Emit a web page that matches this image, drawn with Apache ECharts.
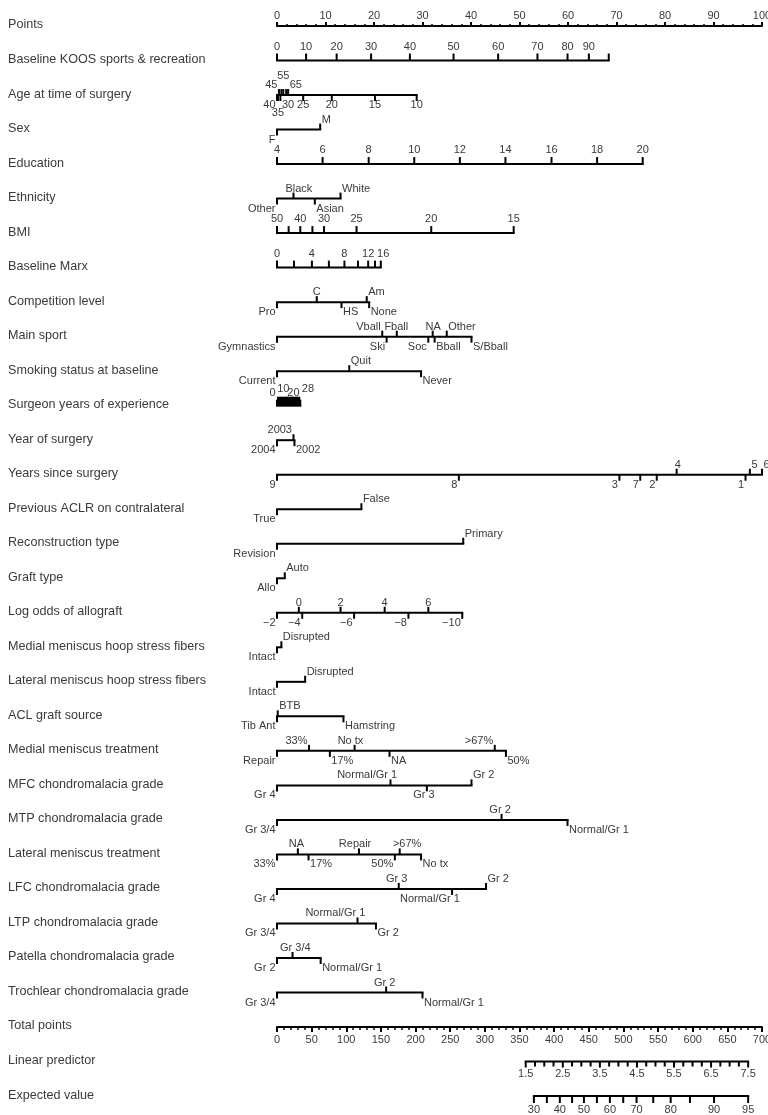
<!DOCTYPE html>
<html><head><meta charset="utf-8">
<script src="https://cdn.jsdelivr.net/npm/echarts/dist/echarts.min.js"></script>
<style>html,body{margin:0;padding:0;background:#fff}#c{width:768px;height:1115px}</style>
</head><body><div id="c"></div>
<script>
// ---------------- DATA ----------------
const rowNames = ['Points','Baseline KOOS sports & recreation','Age at time of surgery','Sex','Education',
  'Ethnicity','BMI','Baseline Marx','Competition level','Main sport','Smoking status at baseline',
  'Surgeon years of experience','Year of surgery','Years since surgery','Previous ACLR on contralateral',
  'Reconstruction type','Graft type','Log odds of allograft','Medial meniscus hoop stress fibers',
  'Lateral meniscus hoop stress fibers','ACL graft source','Medial meniscus treatment',
  'MFC chondromalacia grade','MTP chondromalacia grade','Lateral meniscus treatment',
  'LFC chondromalacia grade','LTP chondromalacia grade','Patella chondromalacia grade',
  'Trochlear chondromalacia grade','Total points','Linear predictor','Expected value'];

// each variable: tick labels and their position on the 0-100 Points scale
const koosLabels = ['0','10','20','30','40','50','60','70','80','90',''];
const koosPts    = [0,6.0,12.3,19.4,27.4,36.4,45.6,53.7,59.9,64.3,68.4];
const ageLabels  = ['40','35','30','25','20','15','10','45','','55','','65'];
const agePts     = [0,0.2,0.7,5.4,11.3,20.2,28.8,0.4,0.9,1.3,1.9,2.3];
const sexLabels  = ['F','M'];
const sexPts     = [0,8.9];
const eduLabels  = ['4','6','8','10','12','14','16','18','20'];
const eduPts     = [0,9.4,18.9,28.3,37.7,47.1,56.6,66.0,75.4];
const ethLabels  = ['Other','Black','Asian','White'];
const ethPts     = [0,3.4,7.8,13.1];
const bmiLabels  = ['50','','40','','30','25','20','15'];
const bmiPts     = [0,2.4,4.8,7.3,9.7,16.4,31.8,48.8];
const marxLabels = ['0','','4','','8','','12','','16'];
const marxPts    = [0,3.5,7.2,10.7,13.9,16.7,18.8,20.2,21.4];
const compLabels = ['Pro','C','HS','Am','None'];
const compPts    = [0,8.2,13.3,18.5,19.0];
const sportLabels= ['Gymnastics','Vball','Ski','Fball','Soc','NA','Bball','Other','S/Bball'];
const sportPts   = [0,21.7,22.6,24.7,31.2,32.1,32.5,35.0,40.1];
const smokeLabels= ['Current','Quit','Never'];
const smokePts   = [0,14.9,29.7];
const surgLabels = ['0','10','20','28'];
const surgPts    = [0,1.3,3.4,4.8];
const yearLabels = ['2004','2003','2002'];
const yearPts    = [0,3.4,3.6];
const sinceLabels= ['9','8','3','7','2','4','1','5','6'];
const sincePts   = [0,37.5,70.6,74.9,78.3,82.4,96.6,97.5,100];
const prevLabels = ['True','False'];
const prevPts    = [0,17.4];
const reconLabels= ['Revision','Primary'];
const reconPts   = [0,38.4];
const graftLabels= ['Allo','Auto'];
const graftPts   = [0,1.6];
const loLabels   = ['\u22122','0','\u22124','2','\u22126','4','\u22128','6','\u221210'];
const loPts      = [0,4.5,5.2,13.1,15.9,22.2,27.1,31.2,38.2];
const mhoopLabels= ['Intact','Disrupted'];
const mhoopPts   = [0,0.9];
const lhoopLabels= ['Intact','Disrupted'];
const lhoopPts   = [0,5.8];
const srcLabels  = ['Tib Ant','BTB','Hamstring'];
const srcPts     = [0,0.15,13.7];
const mtxLabels  = ['Repair','33%','17%','No tx','NA','>67%','50%'];
const mtxPts     = [0,6.6,10.9,16.0,23.2,44.9,47.2];
const mfcLabels  = ['Gr 4','Normal/Gr 1','Gr 3','Gr 2'];
const mfcPts     = [0,23.4,30.9,40.1];
const mtpLabels  = ['Gr 3/4','Gr 2','Normal/Gr 1'];
const mtpPts     = [0,46.3,59.9];
const ltxLabels  = ['33%','NA','17%','Repair','50%','>67%','No tx'];
const ltxPts     = [0,4.3,6.5,16.9,24.3,25.3,29.7];
const lfcLabels  = ['Gr 4','Gr 3','Normal/Gr 1','Gr 2'];
const lfcPts     = [0,25.1,36.1,43.1];
const ltpLabels  = ['Gr 3/4','Normal/Gr 1','Gr 2'];
const ltpPts     = [0,16.6,20.4];
const patLabels  = ['Gr 2','Gr 3/4','Normal/Gr 1'];
const patPts     = [0,3.2,9.0];
const troLabels  = ['Gr 3/4','Gr 2','Normal/Gr 1'];
const troPts     = [0,22.5,30.0];

// output scales
const pointsMax = 100;
const totalMax = 700;
const lpAnchorValue = [1.5, 7.5];      // linear predictor values...
const lpAnchorTotal = [359, 680];      // ...and their total points
const lpTicks  = [1.5,1.75,2,2.25,2.5,2.75,3,3.25,3.5,3.75,4,4.25,4.5,4.75,5,5.25,5.5,5.75,6,6.25,6.5,6.75,7,7.25,7.5];
const lpLabels = ['1.5','','','','2.5','','','','3.5','','','','4.5','','','','5.5','','','','6.5','','','','7.5'];
const evLabels = ['30','','40','','50','','60','','70','','80','','90','95'];
const evValues = [30,35,40,45,50,55,60,65,70,75,80,85,90,95];
const evAtLp   = [1.72,2.07,2.42,2.75,3.07,3.42,3.77,4.13,4.49,4.94,5.41,5.93,6.58,7.50];

// ---------------- LAYOUT (label side / anchor; not data) ----------------
// side: u = above, d = below, U/D = second line, s/S = staggered above
// anchor: 0 = text starts at tick, 1 = text ends at tick, 0.5 = centred
const ROWS = [
  {r:1,  lab:koosLabels, pts:koosPts, cont:true, side:'uuuuuuuuuuu', anchor:[.5,.5,.5,.5,.5,.5,.5,.5,.5,.5,.5]},
  {r:2,  lab:ageLabels,  pts:agePts,  side:'dDddddduuUuu', anchor:[1,.5,0,.5,.5,.5,.5,1,.5,.5,.5,0]},
  {r:3,  lab:sexLabels,  pts:sexPts,  side:'du', anchor:[1,0]},
  {r:4,  lab:eduLabels,  pts:eduPts,  cont:true, side:'uuuuuuuuu', anchor:[.5,.5,.5,.5,.5,.5,.5,.5,.5]},
  {r:5,  lab:ethLabels,  pts:ethPts,  side:'dudu', anchor:[1,.3,0,0]},
  {r:6,  lab:bmiLabels,  pts:bmiPts,  cont:true, side:'uuuuuuuu', anchor:[.5,.5,.5,.5,.5,.5,.5,.5]},
  {r:7,  lab:marxLabels, pts:marxPts, cont:true, side:'uuuuuuuuu', anchor:[.5,.5,.5,.5,.5,.5,.5,.5,.3]},
  {r:8,  lab:compLabels, pts:compPts, side:'dudud', anchor:[1,.5,0,0,0]},
  {r:9,  lab:sportLabels,pts:sportPts,side:'dudududud', anchor:[1,1,1,.52,1,.47,0,0,0]},
  {r:10, lab:smokeLabels,pts:smokePts,side:'dud', anchor:[1,0,0]},
  {r:11, lab:surgLabels, pts:surgPts, side:'sSsS', anchor:[1,.5,.5,0], block:true},
  {r:12, lab:yearLabels, pts:yearPts, side:'dud', anchor:[1,1,0]},
  {r:13, lab:sinceLabels,pts:sincePts,side:'ddddduduu', anchor:[1,1,1,1,1,.3,1,0,0]},
  {r:14, lab:prevLabels, pts:prevPts, side:'du', anchor:[1,0]},
  {r:15, lab:reconLabels,pts:reconPts,side:'du', anchor:[1,0]},
  {r:16, lab:graftLabels,pts:graftPts,side:'du', anchor:[1,0]},
  {r:17, lab:loLabels,   pts:loPts,   side:'dudududud', anchor:[1,.5,1,.5,1,.5,1,.5,1]},
  {r:18, lab:mhoopLabels,pts:mhoopPts,side:'du', anchor:[1,0]},
  {r:19, lab:lhoopLabels,pts:lhoopPts,side:'du', anchor:[1,0]},
  {r:20, lab:srcLabels,  pts:srcPts,  side:'dud', anchor:[1,0,0]},
  {r:21, lab:mtxLabels,  pts:mtxPts,  side:'dududud', anchor:[1,1,0,.66,0,1,0]},
  {r:22, lab:mfcLabels,  pts:mfcPts,  side:'dudu', anchor:[1,.89,.64,0]},
  {r:23, lab:mtpLabels,  pts:mtpPts,  side:'dud', anchor:[1,.57,0]},
  {r:24, lab:ltxLabels,  pts:ltxPts,  side:'dududud', anchor:[1,.6,0,.62,1,.24,0]},
  {r:25, lab:lfcLabels,  pts:lfcPts,  side:'dudu', anchor:[1,.6,.87,0]},
  {r:26, lab:ltpLabels,  pts:ltpPts,  side:'dud', anchor:[1,.87,0]},
  {r:27, lab:patLabels,  pts:patPts,  side:'dud', anchor:[1,.41,0]},
  {r:28, lab:troLabels,  pts:troPts,  side:'dud', anchor:[1,.57,0]}
];
const ROW_BY = {}; ROWS.forEach(d => ROW_BY[d.r] = d);

const FAMILY = '"Liberation Sans", Arial, Helvetica, sans-serif';
const FONT_TICK = '11px ' + FAMILY;
const FONT_NAME = '12.6px ' + FAMILY;
const INK = '#000';
const TXT = '#3a3a3a';
const DY = {u:-10, d:10, U:-19, D:18, s:-13, S:-17};

const mctx = document.createElement('canvas').getContext('2d');
function tw(s){ mctx.font = FONT_TICK; return mctx.measureText(s).width; }

function labelEl(t, x, y, a){
  const w = tw(t);
  const gap = a === 0 ? 1.5 : (a === 1 ? -1.5 : 0);
  return {type:'text', x: x - a*w + gap, y: y, silent:true,
    style:{text:t, font:FONT_TICK, fill:TXT, align:'left', verticalAlign:'middle'}};
}

function rowItem(params, api){
  const r = api.value(1);
  const def = ROW_BY[r];
  const y = api.coord([0, r])[1];
  const xs = def.pts.map(p => api.coord([p, r])[0]);
  const ch = [];
  const x0 = Math.min.apply(null, xs), x1 = Math.max.apply(null, xs);
  ch.push({type:'line', shape:{x1:x0, y1:y, x2:x1, y2:y}, style:{stroke:INK, lineWidth:2, lineCap:'square'}});
  if (def.block){
    ch.push({type:'rect', shape:{x:x0, y:y-9, width:x1-x0, height:9}, style:{fill:INK}});
  }
  def.pts.forEach((p, i) => {
    const s = def.side[i];
    const up = 'uUsS'.indexOf(s) >= 0;
    const len = def.cont ? 7 : 6;
    const x = xs[i];
    ch.push({type:'line', shape:{x1:x, y1:y, x2:x, y2: up ? y-len : y+len}, style:{stroke:INK, lineWidth:2}});
    const t = def.lab[i];
    if (!t) return;
    const dy = def.cont ? -14 : DY[s];
    ch.push(labelEl(t, x, y+dy, def.anchor[i]));
  });
  return {type:'group', children:ch};
}

function nameItem(params, api){
  const r = api.value(1);
  const y = api.coord([0, r])[1];
  return {type:'text', x:8, y:y-1, silent:true,
    style:{text:rowNames[r], font:FONT_NAME, fill:TXT, align:'left', verticalAlign:'middle'}};
}

function outItem(params, api){
  const r = api.value(1);
  const y = api.coord([0, r])[1];
  const ch = [];
  let vals, labs, len, dy;
  if (r === 30){ vals = lpTicks; labs = lpLabels; len = 5; dy = 12; }
  else { vals = evAtLp; labs = evLabels; len = 7; dy = 14; }
  const xs = vals.map(v => api.coord([v, r])[0]);
  ch.push({type:'line', shape:{x1:xs[0], y1:y, x2:xs[xs.length-1], y2:y}, style:{stroke:INK, lineWidth:2, lineCap:'square'}});
  xs.forEach((x, i) => {
    const l = (r === 30 && labs[i]) ? len + 1 : len;
    ch.push({type:'line', shape:{x1:x, y1:y, x2:x, y2:y+l}, style:{stroke:INK, lineWidth:2}});
    if (labs[i]) ch.push(labelEl(labs[i], x, y+dy, 0.5));
  });
  return {type:'group', children:ch};
}

const lpSlope = (lpAnchorValue[1]-lpAnchorValue[0])/(lpAnchorTotal[1]-lpAnchorTotal[0]);
const lpMin = lpAnchorValue[0] - lpAnchorTotal[0]*lpSlope;
const lpMax = lpAnchorValue[1] + (totalMax - lpAnchorTotal[1])*lpSlope;

const axisCommon = {
  type:'value', splitLine:{show:false},
  axisLine:{show:true, onZero:false, lineStyle:{color:INK, width:2}},
  axisTick:{show:true, length:4, lineStyle:{color:INK, width:2}},
  minorTick:{show:true, splitNumber:5, length:2, lineStyle:{color:INK, width:1.5}},
  axisLabel:{fontSize:11, color:TXT, fontFamily:FAMILY}
};

const chart = echarts.init(document.getElementById('c'), null, {renderer:'canvas'});
chart.setOption({
  animation:false,
  backgroundColor:'#fff',
  grid:{left:277, right:6, top:26, bottom:88, containLabel:false, outerBoundsMode:'none'},
  xAxis:[
    Object.assign({}, axisCommon, {position:'top', min:0, max:pointsMax, interval:10,
      axisLabel:Object.assign({}, axisCommon.axisLabel, {margin:5})}),
    Object.assign({}, axisCommon, {position:'bottom', min:0, max:totalMax, interval:50,
      axisTick:{show:true, length:5, lineStyle:{color:INK, width:2}},
      minorTick:{show:true, splitNumber:5, length:3, lineStyle:{color:INK, width:1.5}},
      axisLabel:Object.assign({}, axisCommon.axisLabel, {margin:7})}),
    {type:'value', show:false, min:lpMin, max:lpMax, position:'bottom'}
  ],
  yAxis:{type:'value', min:0, max:29, inverse:true, show:false},
  series:[
    {type:'custom', xAxisIndex:0, yAxisIndex:0, renderItem:nameItem, clip:false,
      data: rowNames.map((n, i) => [0, i])},
    {type:'custom', xAxisIndex:0, yAxisIndex:0, renderItem:rowItem, clip:false,
      data: ROWS.map(d => [0, d.r])},
    {type:'custom', xAxisIndex:2, yAxisIndex:0, renderItem:outItem, clip:false,
      data: [[0, 30], [0, 31]]}
  ]
});
</script>
</body></html>
